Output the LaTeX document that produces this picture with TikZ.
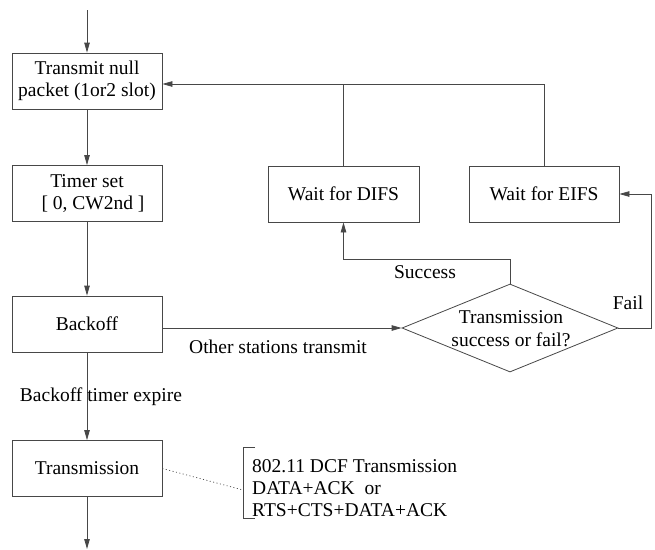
\documentclass[tikz,border=0pt]{standalone}
\usepackage{fontspec}
\setmainfont{Liberation Serif}
\newfontfamily\tms{Liberation Serif}
\usetikzlibrary{shapes.geometric,arrows.meta}
\begin{document}
\begin{tikzpicture}[x=1pt,y=-1pt,
  every node/.style={font=\tms\fontsize{19.5}{21.5}\selectfont, text=black},
  box/.style={draw=black!72, line width=0.8pt, minimum width=150pt, minimum height=56pt, inner sep=0pt, align=center},
  conn/.style={draw=black!72, line width=0.8pt},
  arr/.style={conn, -{Triangle[length=10pt,width=5.5pt]}},
  lbl/.style={inner sep=0pt}]
\useasboundingbox (0,0) rectangle (655,549);
\fill[white] (0,0) rectangle (655,549);

% boxes
\node[box] (tx) at (87,81) {Transmit null\\packet (1or2 slot)};
\node[box] (tm) at (87,193.5) {Timer set\\\hspace*{12pt}[ 0, CW2nd ]};
\node[box] (bo) at (87,324) {Backoff};
\node[box] (trn) at (87,468.5) {Transmission};
\node[box, minimum width=151pt] (difs) at (343.5,194) {Wait for DIFS};
\node[box] (eifs) at (544,194) {Wait for EIFS};
\node[draw=black!72, line width=0.8pt, diamond, minimum width=216pt, minimum height=88pt, inner sep=0pt] (dm) at (510,328) {};
\node[lbl, align=center, font=\tms\fontsize{19.5}{23}\selectfont] (dmt) at (511,329) {Transmission\\success or fail?};

% coordinates
\coordinate (in) at (87,10);
\coordinate (out) at (87,549);
\coordinate (top) at (0,84);
\coordinate (fr) at (651,328);
\coordinate (sc) at (0,259);
\coordinate (bk) at (243,490);

% connectors
\draw[arr] (in) -- (tx);
\draw[arr] (tx) -- (tm);
\draw[arr] (tm) -- (bo);
\draw[arr] (bo) -- (trn);
\draw[arr] (trn) -- (out);
\draw[arr] (bo.east |- dm.west) -- (dm.west);
\draw[arr] (dm.north) -- (dm.north |- sc) -| (difs.south);
\draw[arr] (dm.east) -- (fr) |- (eifs.east);
\draw[conn] (eifs.north) -- (eifs.north |- top) -- (difs.north |- top);
\draw[arr] (difs.north) -- (difs.north |- top) -- (tx.east |- top);
\draw[conn, line width=0.7pt, dash pattern=on 1pt off 2.5pt] (trn.east) -- (bk);

% bracket + annotation
\draw[conn] (255,447) -- (243,447) -- (243,518) -- (255,518);
\node[lbl, anchor=west, align=left, font=\tms\fontsize{19.5}{22}\selectfont] (ann) at (252,488) {802.11 DCF Transmission\\DATA+ACK\ \ or\\RTS+CTS+DATA+ACK};

% labels
\node[lbl] (l1) at (278,347) {Other stations transmit};
\node[lbl] (l2) at (101,397) {Backoff timer expire};
\node[lbl] (l3) at (425,272) {Success};
\node[lbl] (l4) at (628,303) {Fail};
\end{tikzpicture}
\end{document}
